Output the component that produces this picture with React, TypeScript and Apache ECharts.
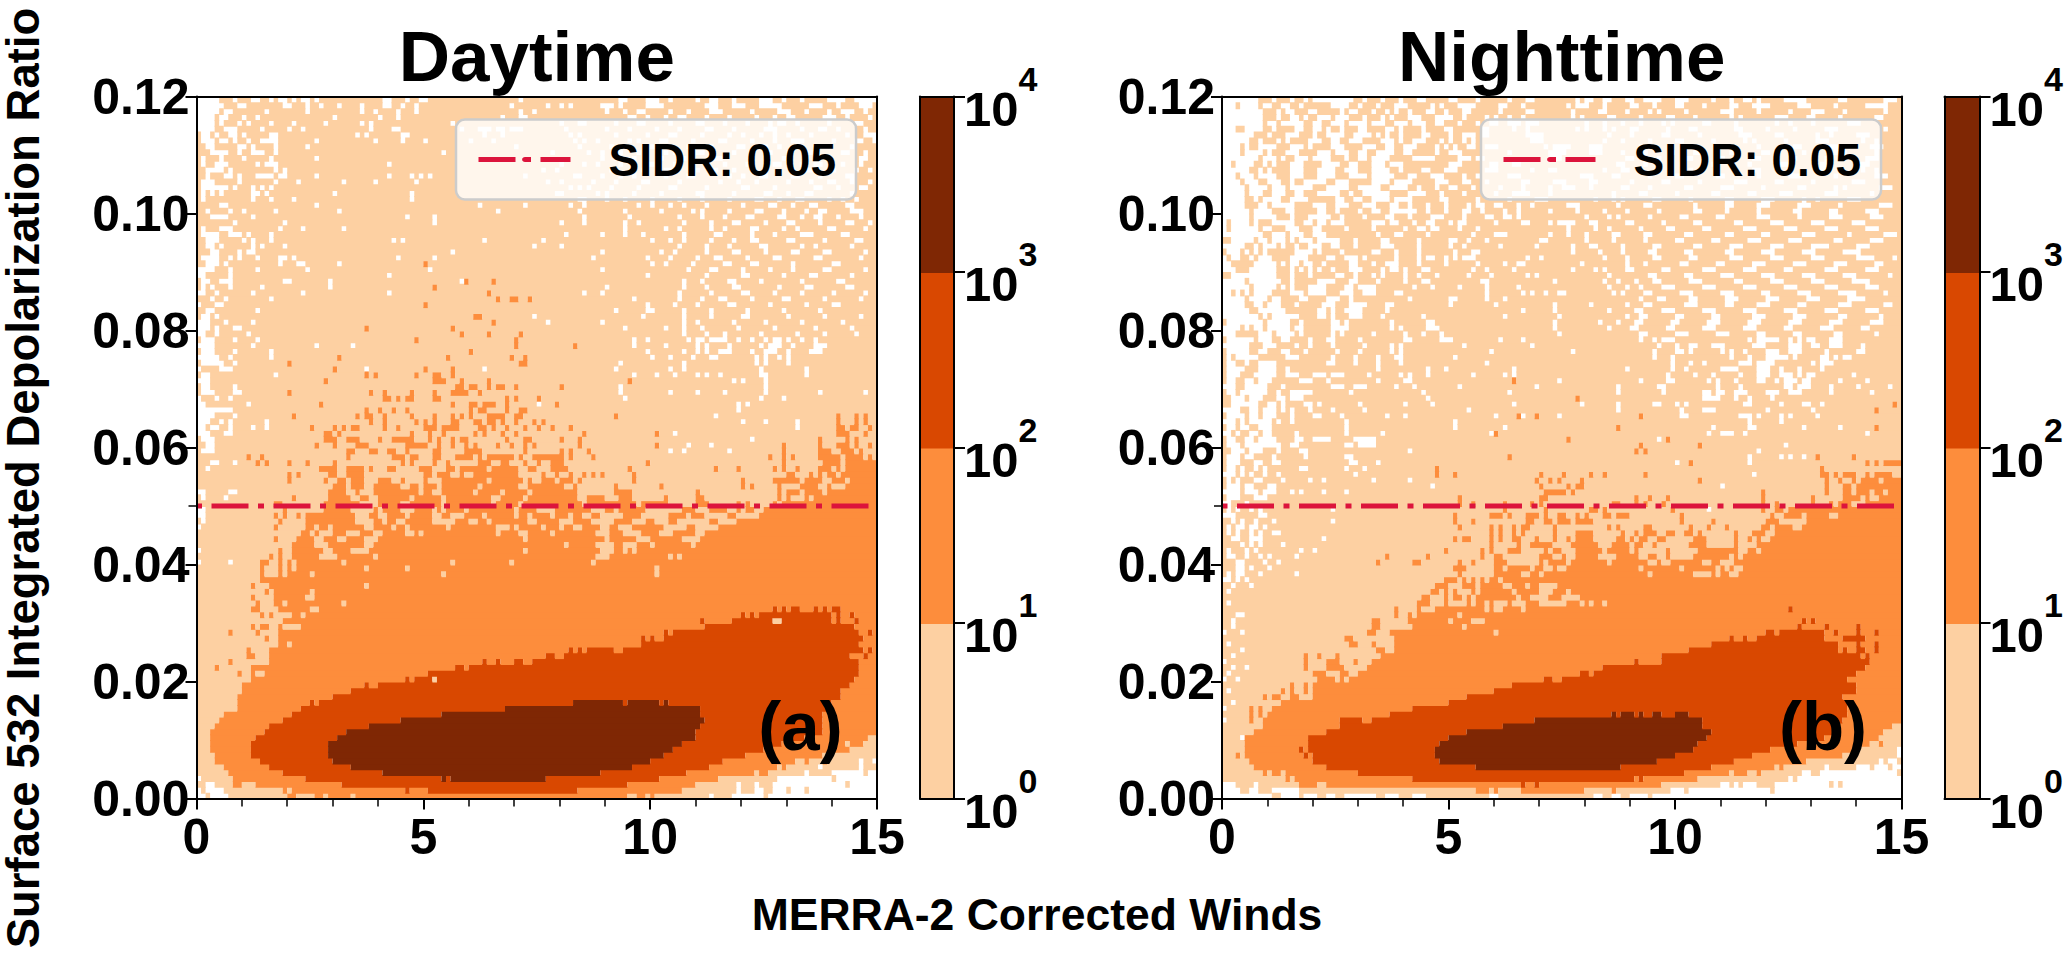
import React, { useEffect, useRef } from "react";
import * as echarts from "echarts";

const BOLD = "'Liberation Sans', Arial, sans-serif";
const LEGEND_NAME = "SIDR: 0.05";
const SIDR = 0.05;
const CRIMSON = "#DC143C";
const colorLevels = ["#FDD0A2", "#FD8D3C", "#D94801", "#7F2704"];
const colorBarEdges = [1, 10, 100, 1000, 10000];
const xTicks = { min: 0, max: 15, step: 5 };
const yTicks = { min: 0, max: 0.12, step: 0.02 };

// Class of each bin: 0 empty, 1 = 10^0-10^1, 2 = 10^1-10^2, 3 = 10^2-10^3, 4 = 10^3-10^4.
// Rows count up from the bottom (0.001 each); columns are 0.1 wide. "col:class" starts a run.
const dayBase: Record<number, string> = {
  0: "0:0 2:1 3:0 7:1 20:2 22:1 26:2 28:1 29:2 34:1 35:2 95:1 97:2 99:1 100:2 101:1 113:0 114:1 118:0 125:1 126:0",
  1: "0:0 1:1 2:0 6:1 19:2 20:1 21:2 46:3 47:2 51:3 84:2 107:1 119:0 120:1 123:0 125:1 127:0 130:1 131:0 134:1 135:0",
  2: "0:1 2:0 4:1 8:2 10:1 13:2 32:3 95:2 110:1 119:0 120:1 123:0 124:1 127:0 143:1 144:0",
  3: "0:0 1:1 8:2 24:3 54:4 55:3 56:4 77:3 102:2 115:1 128:0 140:1 141:0",
  4: "0:1 7:2 19:3 41:4 89:3 108:2 123:1 124:2 126:1 134:0 135:1 140:0 147:1 148:0",
  5: "0:1 6:2 16:3 34:4 96:3 113:2 128:1 129:2 130:1 137:0 138:1 146:0 147:1",
  6: "0:1 4:2 14:3 30:4 100:3 116:2 132:1 134:2 135:1 138:2 139:1 146:0 147:1 149:0",
  7: "0:1 4:2 12:3 29:4 103:3 121:2 138:1",
  8: "0:1 3:2 12:3 29:4 105:3 125:2 143:2 144:1",
  9: "0:1 3:2 12:3 29:4 107:3 129:2 143:1 144:2 147:1",
  10: "0:1 3:2 13:3 31:4 110:3 134:2 148:1",
  11: "0:1 3:2 15:3 33:4 110:3 138:2",
  12: "0:1 4:2 16:3 38:4 111:3 138:2",
  13: "0:1 5:2 19:3 45:4 112:3 138:2",
  14: "0:1 6:2 21:3 54:4 111:3 138:2",
  15: "0:1 9:2 23:3 68:4 111:3 140:2",
  16: "0:1 9:2 25:3 26:2 27:3 83:4 94:3 95:4 102:3 103:4 104:3 140:2",
  17: "0:1 9:2 30:3 142:2",
  18: "0:1 10:2 34:3 142:2",
  19: "0:1 10:2 37:3 38:2 40:3 144:2",
  20: "0:1 12:2 46:3 47:2 48:3 52:2 53:3 145:2",
  21: "0:1 12:2 13:1 15:2 51:3 146:2",
  22: "0:1 12:2 57:3 59:2 60:3 146:2",
  23: "0:1 16:2 63:3 64:2 66:3 67:2 70:3 72:2 74:3 146:2",
  24: "0:1 11:2 13:1 16:2 77:3 79:2 81:3 144:2 147:3 148:2",
  25: "0:1 11:2 12:1 16:2 82:3 83:2 84:3 85:2 86:3 92:2 94:3 147:2 148:3 149:2",
  26: "0:1 18:2 98:3 146:2",
  27: "0:1 18:2 98:3 99:2 100:3 101:2 103:3 147:2",
  28: "0:1 18:2 103:3 104:2 105:3 146:2 148:3 149:2",
  29: "0:1 18:2 112:3 145:2",
  30: "0:1 19:2 111:3 112:2 118:3 140:2 141:3 142:2 145:3 146:2",
  31: "0:1 19:2 120:3 121:2 122:3 123:2 124:3 140:2 141:3 142:2 144:3 145:2",
  32: "0:1 18:2 127:3 128:2 129:3 130:2 131:3 133:2 136:3 137:2 138:3 139:2 140:3 142:2",
  33: "0:1 17:2", 34: "0:1 17:2", 35: "0:1 17:2", 36: "0:1 16:2", 37: "0:1 15:2",
  38: "0:1 21:2", 39: "0:1 22:2", 40: "0:1 22:2", 41: "0:1 22:2", 42: "0:1 23:2", 43: "0:1 23:2",
  44: "0:1 24:2", 45: "0:1 30:2", 46: "0:1 30:2", 47: "0:1 30:2", 48: "0:1 30:2", 49: "0:1 30:2",
};
const dayLight: Record<number, string> = {
  49: "34-38 40 45-47 52 54 59 70 75-78 87-89 92 99-106 110-112 117-118 120 123-124",
  48: "35-37 40-41 46 52-53 56-58 63 70 73 78 82 85-86 89-93 98-103 108 112-116 119-123",
  47: "35-38 41 44-45 52-56 60-61 64 73-74 80-82 87-91 96-98 101-103 106-112 115-118",
  46: "37-38 43 46 55 66-68 70 76 80 83-84 89-90 93-95 103-107 110-114",
  45: "28 33-35 39-40 46-47 49 66 71-72 78 88-90 94-97 102-104 110-111",
  44: "26-27 31-32 37-39 72 90 97-99 107-110",
  43: "26-28 37-38 81 88-91 94-96 100 109",
  42: "28-29 34-37 72 89-91 94 96",
  41: "27-30 39 88-90 104 106",
  40: "32 56 69 87",
  39: "37 46 101",
  38: "25 54 101",
  36: "37",
  35: "25",
  34: "24-25",
  33: "19 32",
  32: "25-26",
  31: "18-20 23",
  29: "19-21 22",
  26: "17 20",
  30: "127-128",
  20: "52",
};
const dayOrange: Record<number, string> = {
  91: "50", 88: "59 65", 87: "52", 86: "64", 85: "66 69-70 73", 84: "50", 82: "61-62", 81: "65",
  80: "37 56", 79: "58 64 71",
  78: "48 70", 77: "70 83", 76: "60", 75: "31 55 69 72", 74: "20 71-72", 73: "30 50 56",
  72: "37 39 48 52-53 56", 71: "28 52-53 54 58 64 95", 70: "57-58 60-61 64 66-67 70 80",
  69: "20 38 41 47 52 56-59 62", 68: "41-42 44 46-47 52-53 68 70 75", 67: "27 56 60-61 63-65 68 79",
  66: "37 40 43 46 60 62-63 68 71-72", 65: "21 35 37-38 41 47 52 56 58 60 64-67 70-71 92 141 145 147",
  64: "38 41 48 50 52 56-57 61-62 64-65 67 70 74 76 141 145 147",
  63: "25 30 32 34-35 41 44 50-52 54-57 62-63 65 68 72 75 78 82 141-142 144-145 148",
  62: "28-29 31 47 51 54 61 63 67 70 85 101 141-143 147",
  61: "28-30 33-35 40 43-47 51 53 56 58-59 68 72-73 80 84 137 143 145",
  60: "26 30 35-37 46-48 49-50 53 56 59 61 66 69 72 74 84 101 129 137 141-143 145 148",
  59: "33-34 38-39 42-43 46 52-53 59-62 72 80 82 86 129 137-139 142-144 146",
  58: "11 14 33 43-45 47-48 52-53 57-60 62 64-69 71 74-80 82 87 126 129 131 137-141 143-146 148",
  57: "13 15 20 24 30 45 47 52 55 62-64 67-68 72 75 78-80 99 129 138-141 143-149",
  56: "27-30 33-36 38 42-43 49-51 55-56 58-63 65-70 73-74 78-81 95 114 119 127 129 132 137-139 141 143-149",
  55: "20 22 29-30 33-36 50-51 53-55 58 61-70 76 79 82 85 87 89 96 130-131 135 137 139-140 142-149",
  54: "20 28 31-32 34-36 40-42 45 50 54-63 65-71 73 76-78 80-82 84 96 120 127-132 134-137 140-142 144-149",
  53: "30-32 34-36 39-44 47-48 50-52 54-61 63-70 73-80 83 92 102 120 122 128 133-136 139 143-149",
  52: "29-32 35 39-48 50-51 54-60 62-66 68-72 74-83 92-95 110 128 130-132 134-137 139-149",
  51: "21 29-33 36-37 40-46 48-53 55-64 67-71 73-83 86-89 93-95 103 110-111 128 130 134 136-149",
  50: "17-18 28-35 40-44 47-53 55-64 66-70 72-84 86-96 98-103 110-112 119 121 127 129-149",
  43: "21-22", 42: "21-22 18", 41: "16 18 21", 40: "14-15 18 20", 39: "14 18 20", 38: "14 18 20",
  44: "22-23 17", 45: "23-24 26", 46: "17 24-25 27-28", 47: "18 24-29", 48: "19 17 22 24-29", 49: "19 28-29",
  37: "14", 36: "17 12", 35: "15", 34: "17 12", 33: "13", 32: "12-13", 31: "14 16", 29: "12 14-15", 28: "7 13",
  27: "15", 23: "7", 22: "4", 21: "9",
};
const dayWhite: Record<number, string> = {
  119: "0-4 8 12-13 16 18-19 21 23-24 26 41-42 46 49-50 71 93-94 99-101 104 110 113-114 118 124-126 129 133 139-142 145-149",
  118: "0-5 9-10 19-20 24 27 31 36 41-42 45 48 69 77 80 82 89-91 93 99-102 112-114 118-120 124-128 135-137 141 146-148",
  117: "0-4 6-7 15 24 36 39 44 48 71 74 90 94 97-98 104 108 113-115 122 128-130 134 139 142-144 147",
  116: "0-3 5-6 10 13 30 40 44 67 71-72 95-96 99 103 106-107 112 117 123 127 130-131 138-140 143 148",
  115: "0-3 5 9 11 16 21 28 36 38 56 80 84-85 92 97-98 104 110-111 116 121 126 128-129 132 139 145-146",
  114: "0-3 6-8 14 20 23 38 43-44 58 62-64 66-67 69-71 81 90 95 101 106 112-113 118 125-127 133 137-138 141 147",
  113: "1-2 4 7-8 10 16-17 35 37 45-46 63 67 82 84 92 99 104-105 111 117 120 124 127 130 135 143 147-149",
  112: "1-3 5-6 8 11 14-17 26 39 45 50 60 65 83 85 88 95 97 102-103 109 115-116 122 127 131-133 140 145-146 149",
  111: "2-3 9-10 12 17 24 70 84 91 94 100-101 108 113 119-120 125 128 132 137-139 144",
  110: "3-6 9 12-14 17 54 78 86 89 93 97 103 105 110-111 118 125-126 130 134-135 142-143 147",
  109: "1 5 10 16 26 89 92 96 102 107 114-115 122 129-130 134 139 146-147",
  108: "1 4-6 13 15-17 42 80 85 88 93 99-100 105 112 116 121 127-128 133 136-137 142 146",
  107: "2-3 4-5 7 17 19 76 79 91 98 103-104 110 114 118 125 131 134-136 140 145 148",
  106: "2 6-7 9 13-16 18-19 26 42 47 49 51 72 83-84 89 93 96 103 108-109 117 120 124-125 131-132 137 143-144",
  105: "1-3 9 17 22 32 39 48 77 80 87 92 98-99 106 115 119 123 130 135 139-140 144 148",
  104: "1-6 8 12 14 16 82 84 86 91 97 104-105 112 120-121 127 136-137 141 146-147",
  103: "1 3 5 12-13 15 30 47 79-80 88 90 96 102 110-111 118 125-126 130 134-135 144",
  102: "1 12 16 21 47 84 85 90 94 100 106 111 117 123-124 128 132-133 139 142 145",
  101: "5-6 26 62 72 82 85 97 100 104 107 112 120 126-127 131 135-136 143-144",
  100: "2 7 10 17 31 66 84 94 102 109 111 117 123-124 129 134 137-138 144-146",
  99: "3-6 12 46 52 85 95 106 111 116 121-122 128-129 133 136-137 141 146",
  98: "8 19 52 80 85 94 97 107 113 118-119 125 130-131 137 143-144 148",
  97: "1 5-7 18 23 32 94 103 106 113 116 122-123 129 132 139-140 147",
  96: "1-4 7-9 11 16 81 89 94 98 107 114-115 122 127 133-135 142-143",
  95: "2-4 10 12 16 43 45 63 76 100 104 107 113 118 122-123 130-131 138 145-146",
  94: "2-3 5 12 14 19 74 80 106 112 117 124-125 133 136 144",
  93: "3-4 9 11-12 56 89 102 105 112 118-119 125 131-132 138-139 147",
  92: "1-4 7 9 13 18-19 21 44 52 87 99 104 110 114-115 121 127-128 136-137 146",
  91: "2-4 6 18 22-23 31 100 103 109 116-117 122-123 131 140-141",
  90: "0-3 7 13 24 51 89 108 113-114 120 126 131 138-139 147",
  89: "0-1 7 42 99 112 120-121 129 135-136 144",
  88: "1-2 5-7 19-20 29 58 107 111 117-118 124 133 141-142",
  87: "1 3 7 14 29 90 107 112 118-119 128 134-135 143-144",
  86: "0-1 4 12 23 42 85 89 106 113 120-121 127 133 140 147",
  85: "3 6 16 96 106 111 115-116 122 129-130 138 146",
  84: "0 4-5 99 105 110 117-118 126 134 140-141",
  83: "2-3 13 92 99-100 107 113 121 129 137",
  82: "1-2 4 74 98 107 113 120-121 130 138 146",
  81: "0-2 6 12 77 89 107 110 118 125 133 142",
  80: "0-2 4 8-9 94 103 107 111 119 127 136 144",
  79: "0-1 4 11 107 112 116 124 132 138 145",
  78: "1-3 8 13 96 99 108 110 111 113-116 119 122 125 127-128 130 133 136",
  77: "0-3 12 26 34 96 103 110 112 117 124 126-128 131 136-138",
  76: "1-3 8 16 99 107 110 112 115-117 122 125-127 130 135-137",
  75: "0-4 7 16 100 104 109 113-114 123 125 128 130",
  74: "1-5 8 93 107 123 125 130",
  73: "0 5-7 37 63 92 104 107 124 134",
  72: "1-2 17 96 101 105 110 112 115 124-125 134",
  71: "0-2 118 120 125",
  70: "1-2 8 93 125",
  69: "1-3 8-9 20 93 104 110 116 125 137 147",
  68: "0 4 7 94 124 129",
  67: "0-1 11 75 119 121",
  66: "0-7 119",
  65: "0-3 8 114",
  64: "0-2 5 7 15 120 125 132",
  63: "0-1 3-4 7 12 15 132",
  62: "0-2 6-7 105",
  61: "1-3 122",
  60: "2-3 113 108",
  59: "1-3 104 107 117",
  57: "3-4 8",
  56: "2",
  52: "0-1 7-8",
  51: "1 6",
  49: "0-1", 48: "0-1", 47: "1", 46: "0", 42: "0", 40: "0 7",
};

const nightBase: Record<number, string> = {
  0: "0:0 11:1 13:0 17:1 18:0 21:1 23:0 25:1 27:0 34:1 36:0 39:1 42:0 45:1 59:0 61:1 82:0 84:1 86:0 88:1 90:0 94:1 95:0",
  1: "0:0 4:1 6:0 8:1 11:0 17:1 56:2 59:1 60:2 61:1 66:2 80:1 86:2 87:1 99:0 102:1 103:0 121:1 122:0",
  2: "0:0 3:1 7:0 8:1 17:2 21:1 23:2 66:3 67:2 69:3 70:2 97:1 110:0 112:1 113:0 114:1 115:0 118:1 122:0 134:1 135:0 136:1 137:0",
  3: "0:1 14:2 15:1 16:2 42:3 91:2 92:3 93:2 105:1 125:0 126:1 127:0",
  4: "0:1 9:2 10:1 11:2 13:1 14:2 30:3 102:2 112:1 113:2 116:1 118:2 119:1 128:0 130:1 132:0 149:1",
  5: "0:1 7:2 23:3 56:4 88:3 108:2 122:1 123:2 124:1 133:0 134:1 140:0 143:1 144:0 147:1 148:0",
  6: "0:1 6:2 20:3 48:4 96:3 113:2 129:1 145:0 146:1 147:0 149:1",
  7: "0:1 3:2 4:1 5:2 18:3 19:2 20:3 47:4 100:3 117:2 137:1 149:0",
  8: "0:1 5:2 17:3 18:2 19:3 47:4 104:3 121:2 140:1 149:0",
  9: "0:1 5:2 19:3 48:4 105:3 127:2 143:1 145:2 146:1",
  10: "0:1 5:2 19:3 50:4 107:3 133:2 145:1",
  11: "0:1 7:2 23:3 54:4 108:3 135:2 146:1",
  12: "0:1 9:2 26:3 62:4 106:3 136:2 148:1",
  13: "0:1 6:2 7:1 9:2 26:3 31:2 33:3 69:4 106:3 137:2",
  14: "0:1 6:2 7:1 8:2 9:1 10:2 37:3 86:4 87:3 88:4 91:3 92:4 93:3 95:4 97:3 100:4 103:3 138:2",
  15: "0:1 6:2 7:1 8:2 9:1 11:2 42:3 138:2",
  16: "0:1 13:2 50:3 138:2",
  17: "0:1 9:2 10:1 11:2 13:1 15:2 17:1 20:2 54:3 137:2",
  18: "0:1 13:2 14:1 15:2 16:1 18:2 19:1 20:2 60:3 140:2",
  19: "0:1 15:2 16:1 18:2 19:1 20:2 64:3 140:2",
  20: "0:1 21:2 25:1 26:2 27:1 28:2 71:3 73:2 75:3 138:2",
  21: "0:1 20:2 23:1 26:2 28:1 30:2 79:3 81:2 82:3 140:2",
  22: "0:1 18:2 19:1 23:2 27:1 32:2 84:3 142:2",
  23: "0:1 18:2 19:1 23:2 26:1 29:2 30:1 33:2 91:3 92:2 97:3 143:2",
  24: "0:1 18:2 19:1 21:2 22:1 25:2 26:1 35:2 97:3 141:2 142:3 143:2",
  25: "0:1 34:2 36:1 38:2 103:3 136:2 137:3 138:2 140:3 142:2 144:3 145:2",
  26: "0:1 28:2 30:1 33:2 34:1 38:2 108:3 136:2 140:3 141:2 144:3 145:2",
  27: "0:1 27:2 29:1 38:2 112:3 113:2 115:3 116:2 118:3 133:2 137:3 142:2",
  28: "0:1 32:2 34:1 37:2 120:3 122:2 123:3 133:2 135:3 136:2 140:3 141:2 144:3 145:2",
  29: "0:1 33:2 35:1 42:2 127:3 128:2 133:3 134:2 140:3 141:2",
  30: "0:1 33:2 35:1 41:2 128:3 129:2 130:3 131:2",
  31: "0:1 38:2 39:1 41:2 42:1 43:2",
  32: "0:1 38:2 39:1 43:2 125:3 126:2",
  33: "0:1 43:2", 34: "0:1 44:2", 35: "0:1 46:2", 36: "0:1 47:2", 37: "0:1 49:2",
  38: "0:1 108:2", 39: "0:1 107:2", 40: "0:1 105:2", 41: "0:1 104:2", 42: "0:1 116:2",
  43: "0:1 118:2", 44: "0:1 124:2", 45: "0:1 124:2", 46: "0:1 128:2", 47: "0:1 129:2",
  48: "0:1 129:2", 49: "0:1 128:2",
};
const nightLight: Record<number, string> = {
  37: "52 54 56 58 61", 36: "50-52 56 62-63 67 70-73", 35: "48 50 52-54 56 64 70-72 76",
  34: "46-48 50 53 55 65 68-71 75-78", 33: "46-48 50-53 55 58 60-62 64-66 70-75 79 81 84",
  32: "40 42 44-46 58 60-61 66", 31: "52", 30: "50 55-57", 29: "53", 28: "60",
  39: "109 111 113-114", 38: "109 112-113", 40: "106-107 110-112", 41: "106-109 112 114",
  42: "118", 43: "120-121", 48: "134-135",
};
const nightOrange: Record<number, string> = {
  71: "64", 68: "78", 67: "148", 66: "144", 65: "65 69 92", 63: "87 144", 62: "60", 61: "76 98",
  60: "92 105", 59: "91 93", 58: "63 131 139", 57: "103 142 144 146-149", 56: "47 132",
  55: "47 51 70 75 81 84 93 132-133 135 137-139 142 144-147",
  54: "69 72 74 79 105 133 136 139 141-144 146-149",
  53: "70 76 78 79 133 137-138 140-149", 52: "71-73 74-75 77 119 133 137-138 140-142 144-145 147-149",
  51: "52 70-71 91 94 98 119 130 137-140 142 145-149",
  50: "52 55 62 68 70 86-87 91 93 97 119 122 130 134 136-138 142-149",
  49: "62 71 81-82 84 99 119 122-123 125-127",
  48: "51 59-61 63 67-69 71 74-75 78 80 84-85 87-89 101 121 124-127",
  47: "51 55 67-68 71-72 74-76 78-80 81 101 108 120-122",
  46: "52 59 61 64 66-67 73 85 87 93-94 103 107 111 119-120 122-125",
  45: "59 61 64 66 73 78-81 88 91 93-95 98-99 102-103 105 113 117-119 122-127",
  44: "51 53-54 59 61 64-65 69 73 76 78-81 87-88 90 92-93 96-97 104-106 113 116 118 121-127",
  43: "59 65 68-72 77-82 86-89 91-92 95 103-106 113 118-123",
  42: "49 57 59 63-65 71 73-74 78-83 85-89 91 98 105-113",
  41: "36 45 57 60-61 70-72 75 78-82 87-91 94-95 98 105-110 113",
  40: "34 42-43 52 55 60-62 70 72-75 77-84 86-93 96 99-104",
  39: "51-53 60-61 63-67 69-70 73 76-91 93-100 102-106",
  38: "52 60-65 68-69 71-93 95-103",
};
const nightWhite: Record<number, string> = {
  119: "0-7 11 15 18 20-28 31 35 39 43-44 50-51 56 63 67-68 78 80-81 84-85 89-90 93-96 100-102 108 112 115-116 118 124-128 136-137 146-148",
  118: "0-2 4-7 9-10 13-14 17 24-27 30 34 38-40 46 48 52-55 61-62 66 76 78-80 84 90-91 95 100-101 106 112-113 117-120 127-129 135 142-146",
  117: "0-8 12 14-15 19-20 26 28-29 33 36 38 41 45-46 49 53-54 61 67-68 77 83-84 89 94 96 102 110-112 118 125 130-132 137 146",
  116: "0-8 12 15-16 18 21-23 25-27 31 35 37 41-43 47-50 53 58 60 63 66 77 79 85-86 92 98-99 104 112 114 122-124 129-130 136 144-145",
  115: "0-8 10-11 13-17 20-21 24-26 28-31 33-35 38-40 42-44 47-48 52 56 59-60 63-65 67-69 80 84 88 92 97 99 106-107 113 122 125 130 138-140",
  114: "0-2 5-8 11 16-17 20-21 23 26 30-31 36-37 39 44 49-50 57-58 64 67 78 80 84 86 90-91 98 103-104 113-114 120 126 133-135 146",
  113: "0-6 10 14-16 20 23-26 29-32 34 36 39 44-45 50 53-55 57-58 67-70 85 90 97-98 105 114-116 122-123 131 134 140-142",
  112: "0-5 8 12 14 19-21 24-25 28-30 35-37 39 42-44 48 50 53 55 68-70 84 88 94 100-101 108 115 117 124 131-133 141 144",
  111: "0-3 5 8-11 15-17 19 24-26 31-33 36-37 40-42 47 49 51 54-55 58-60 71 73-76 81-83 92 102 109-110 118 126-127 134-135 143-145",
  110: "0-3 5-7 8 10 14-16 21-23 25-27 30-31 34-37 40-41 47 50-52 63 72-75 81-83 88 93 99 104-105 112 119-120 128 135-137 144",
  109: "0-7 9-11 13 16-18 20-23 27 30-31 33-36 42-46 52-54 56-57 72-74 89-90 96 102-103 110 117-118 125-126 133 136 142-144",
  108: "0-1 3-6 9 11 15-17 22-25 28-29 33-35 37-39 50-52 59-60 64-65 87-88 93 101 108-109 116 123-125 132-133 140-142",
  107: "0-5 8 10 15-17 21-24 27-29 33-36 39 44-45 49-51 58-60 68 72-73 84 88-89 96 103 109 117-118 125 131-133 141 144",
  106: "0-2 4-6 8-11 15-17 21-24 28-31 33-37 41-42 46-48 53 56 63-65 79-81 86-87 94 100-101 109-110 118 125-127 135 144-146",
  105: "0-3 5-7 10-12 15 18-22 25-27 33-36 38-41 47-49 53-54 58 66-67 73-75 81-82 90 97-98 105 113-115 122-123 130 139-141",
  104: "0-4 6-9 11-13 15-19 23-27 30-34 37-40 43 47 50-51 55 61 66 72 75-77 81 88-89 94 102-103 110-112 119 127-128 135 137 145-147",
  103: "0-4 6-8 11-13 16-17 21-25 28 31-36 41-44 48 53 60 64-67 72 86 92-93 100 108-109 116-117 123-125 133-135 143",
  102: "0-4 7 9-12 15-18 25-26 29-30 33-36 38-41 48-49 56 63 69-71 82 86 88 95-96 103 111-112 119-121 128 131 138-140",
  101: "0-4 8-9 11-15 20-22 25-27 31-33 37-38 41 45 49 54 56-57 60-61 65 68 76-78 87 93-94 104 111-112 118-120 127-129 136 145-147",
  100: "0-5 7-10 14-15 21-22 25 30 33-34 37-42 45 49 53-54 57 62 65 72 78 84 89 96 104-105 111 118 126-127 134-135 142-144",
  99: "0-5 7-11 15 19-23 26 31 36-37 41 46-48 53 58-59 62-63 65 80 85 87 94 101-102 109-110 118-120 127 134-136 143-145",
  98: "0 2-5 7 11-15 18-19 21-22 24-26 33-35 37-38 42 45-46 50 52-53 60 66-67 72 74-77 81-82 89-90 97 104-105 113-114 121-123 130-132 139-141",
  97: "0 2-7 9-10 14-16 20-21 27 33 40 43-44 46-47 52 56 76 82 85 92 98-99 106-107 115-117 124-126 133-135 142-144",
  96: "0-8 11 12-13 15-17 20-22 34 38-39 45 55 60-62 72 76 80 86-87 93-94 102-103 111-112 119-120 128-130 138 146-148",
  95: "2-6 8-9 11-13 15 17-19 21-25 29 35-36 43 50-51 54 58 70-71 80 86 93 100-101 108-109 116-118 125-127 135-136 143-145",
  94: "0-4 7 9-11 13 16 19-21 24-25 29 35-37 43 50 53 61 69 77 81-82 88 95-96 104-105 112-114 121-123 130-133 140-142",
  93: "1-3 5 7 9 16-19 21 26 33-34 38 43 51 55-56 77 83 88 94-95 102-103 111-112 119-121 128-130 137-140",
  92: "0 2-3 6 8-10 15-18 23-24 27-29 31 38 43 45-46 49 51 53-55 67 70 84 89 95-96 103-104 112-114 121-123 130-132 140-143 148",
  91: "0-1 7-11 13 15-16 18-19 22 28-29 33 36-38 43 49 56 62 65-66 79 89 93 101-102 109-110 117-119 126-128 135-137 144-145",
  90: "0-2 6-11 15 17 19 21 24 28-30 35 37-38 40 44-45 55 58 64 77 82 84 89-90 97-98 106-108 115-117 124-125 133-135 142-144",
  89: "2-11 15 19 25-26 29 33 35 40 43 47 54 59 67 69 85 94-95 102-103 110-112 119-121 128-130 137-139 147",
  88: "0-4 6-12 15 21-24 28-29 34 40 44-45 57 58 73 84 87 91 95-96 103-105 113-114 121-123 130-132 139-142",
  87: "0-5 7-11 13 15 19-22 27-28 30-33 42 46 52 58 65 85 89 92 97-99 106-108 115-117 124-126 133-135 142-144",
  86: "0-1 3 5 7-10 15-17 19-22 26-28 31-33 38-39 58 66 68 71 74-75 86 88 93-94 101-103 110-112 119-120 127-129 136-139 146",
  85: "0-4 6-9 11-12 17-18 23-25 28 41 50-51 58 62 92 96-97 103-104 111-113 120-122 129-131 138-141",
  84: "0-4 7-8 10-12 16 22-24 28-31 36-37 50 60 73 81 89 93-94 102-104 111-112 118-120 127-128 136-138 146-147",
  83: "0-5 8-13 21-22 24 27-30 36 66 73 85 91-92 97-99 106-108 115-117 124-126 133-135 142-144",
  82: "0-7 9 11-16 21-22 24 28-30 35 44 62 74 89 92-93 100-101 108-109 117-119 126-128 136-137 145",
  81: "1-8 10-14 17 24-25 27 37 45-46 73 83 87 91-92 99-100 107-109 116-118 125-127 134-136 143-145",
  80: "0-3 5 7-8 10-14 16-17 24-27 37 39 45-47 73 85 90-91 98-99 106-108 115-117 124-125 132-134 141-142",
  79: "0-2 8-10 12-15 17 24 26 33 40 44 48 74 92-93 100-102 109-111 118-119 126-127 135-136 144",
  78: "1-6 8-10 13 14 19 23-24 30 40-41 48-50 61 66 92 95 97-99 116 118-122 125 127 129-130 134-136",
  77: "0-5 9-11 16 19 24 31 37 39 53 68 96 100 103-104 108-110 117-119 125-127 130-131 134-136 141",
  76: "1-5 8-9 13-14 18 25 30 37 39 59 77 95 100-101 103 110 112 115 120-122 125-127 133 140-141",
  75: "1 3-7 14-16 24 29 34 38-39 51 95 99 112 116 120-124 126 132-133 135 137-138",
  74: "1-2 5 8-11 23-24 29 34 39 58 99 103 106 114-116 118-121 130 132-134",
  73: "1-4 8-11 14 34 45 49 64 89 99 102 110-113 118-120 123 127 132",
  72: "1-3 7-11 14-16 20-22 24-26 32 39 41 45 55 62 64 98 104 108 114 118-120 123-125 127 129-130 139",
  71: "1-2 5-6 8-10 17-19 23 34 40-41 74 92 98-99 107 109 113 118-119 122 124-126 128-129 136 142",
  70: "0-2 5-9 13 24-26 29-31 38 42 52 69 87 96-97 109 114 124-125 127-129 134 140 147",
  69: "1-2 4-9 12 15-19 28 44 63 87 97 106-107 109-110 113-115 120-122 125-127 134 143",
  68: "2-4 6-8 12-13 15-17 45 106-109 113 116 121",
  67: "2-7 10-11 13 18-19 21 30 40 46 64 79 87 95-96 100 102 115-116 123 128-129 132",
  66: "0-3 6-7 9-11 13 15 19 24 31 54 87 101 106-108 120 130",
  65: "1-4 6-7 9-11 15 20-21 26 36 40 60 66 74 101-102 114-116 118 123 125 131",
  64: "0-2 4 6-10 12 15 27 51 116 123",
  63: "1-2 4-5 8-10 27 51 62 108 116-117 128 136",
  62: "0-1 3 6-7 9-10 16 27 35 59 107 110-112 115 142",
  61: "1-2 5-6 8-11 16-17 20-23 29-33 96",
  60: "1-3 5-12 15-16 27-28 30-33 124",
  59: "2-4 6-8 12 17 18 41 118",
  58: "1-3 5-6 11 18 27-28 116 123 125 128 131",
  57: "1-3 7-8 11-12 28-29 34 100 116",
  56: "1-2 4 7 9 17-18 31 27",
  55: "0-2 4 6 9 12 29 117",
  54: "1 3 7-8 13 19 22 33 41",
  53: "1-3 5-6 10-11 46 110",
  52: "0-3 5-7 9-11 15 17 22 27",
  51: "1-3 7-9",
  50: "0-1 5",
  49: "1 3 6 8 24 107",
  48: "0-2 8-9",
  47: "2 4 7 11 24",
  46: "1 3-4 6-7 9",
  45: "1 3 6 8 11-12",
  44: "2-3 6-8 22",
  43: "4 6 8 13",
  42: "1 5 7 17 20",
  41: "1-2 5 8 10 16",
  40: "3-4 9 12",
  39: "3-4 6 10",
  38: "1 3-4 8 16",
  37: "0-1 3 5", 36: "2 6", 35: "1", 33: "1", 31: "3-4", 30: "2", 29: "2", 28: "0 4", 26: "1", 25: "4", 24: "2",
  23: "0", 22: "2 5", 21: "1", 20: "0 3", 18: "1", 16: "2", 15: "0", 13: "0", 10: "4",
};

const parseCols = (s?: string): number[] => {
  if (!s) return [];
  const out: number[] = [];
  s.trim().split(/\s+/).forEach((t) => {
    if (!t) return;
    const [a, b] = t.split("-").map(Number);
    for (let c = a; c <= (b === undefined ? a : b); c++) out.push(c);
  });
  return out;
};

// class grid -> horizontal runs [x0, x1, y0, y1, count]
function buildCells(
  base: Record<number, string>,
  light: Record<number, string>,
  orange: Record<number, string>,
  white: Record<number, string>,
): number[][] {
  const cells: number[][] = [];
  for (let r = 0; r < 120; r++) {
    const row = new Array(150).fill(1);
    if (base[r]) {
      const runs = base[r].split(" ").map((p) => p.split(":").map(Number));
      runs.forEach(([c, k], i) => {
        const end = i + 1 < runs.length ? runs[i + 1][0] : 150;
        for (let q = c; q < end; q++) row[q] = k;
      });
    }
    parseCols(light[r]).forEach((c) => { row[c] = 1; });
    parseCols(orange[r]).forEach((c) => { if (row[c] < 2) row[c] = 2; });
    parseCols(white[r]).forEach((c) => { if (row[c] <= 1) row[c] = 0; });
    let start = 0;
    for (let c = 1; c <= 150; c++) {
      if (c === 150 || row[c] !== row[start]) {
        if (row[start] > 0) {
          cells.push([start / 10, c / 10, r / 1000, (r + 1) / 1000, Math.pow(10, row[start] - 0.5)]);
        }
        start = c;
      }
    }
  }
  return cells;
}

const levelColor = (count: number) =>
  colorLevels[Math.min(colorLevels.length - 1, Math.max(0, Math.floor(Math.log10(count))))];

const renderCell = (_: unknown, api: any) => {
  const a = api.coord([api.value(0), api.value(3)]);
  const b = api.coord([api.value(1), api.value(2)]);
  return {
    type: "rect",
    shape: { x: a[0], y: a[1], width: b[0] - a[0], height: b[1] - a[1] + 1 },
    style: { fill: levelColor(api.value(4)) },
  };
};

const LINE = 2;
const blackLine = { show: true, onZero: false, lineStyle: { color: "#000", width: LINE } };
const TICK_FONT = 50;

function panelAxes(gridIndex: number) {
  const x = {
    type: "value", gridIndex, min: xTicks.min, max: xTicks.max, interval: xTicks.step, z: 10,
    position: "bottom", axisLine: blackLine,
    axisTick: { show: true, length: 11, lineStyle: { color: "#000", width: LINE } },
    minorTick: { show: true, splitNumber: 5, length: 8, lineStyle: { color: "#000", width: 1.5 } },
    axisLabel: { color: "#000", fontSize: TICK_FONT, fontWeight: "bold", fontFamily: BOLD, margin: 13 },
    splitLine: { show: false },
  };
  const xTop = {
    type: "value", gridIndex, min: xTicks.min, max: xTicks.max, z: 10, position: "top",
    axisLine: blackLine, axisTick: { show: false }, axisLabel: { show: false }, splitLine: { show: false },
  };
  const y = {
    type: "value", gridIndex, min: yTicks.min, max: yTicks.max, interval: yTicks.step, z: 10,
    position: "left", axisLine: blackLine,
    axisTick: { show: true, length: 11, lineStyle: { color: "#000", width: LINE } },
    axisLabel: {
      color: "#000", fontSize: TICK_FONT, fontWeight: "bold", fontFamily: BOLD, margin: 7,
      formatter: (v: number) => v.toFixed(2),
    },
    splitLine: { show: false },
  };
  const yRight = {
    type: "value", gridIndex, min: yTicks.min, max: yTicks.max, z: 10, position: "right",
    axisLine: blackLine, axisTick: { show: false }, axisLabel: { show: false }, splitLine: { show: false },
  };
  const ySidrTick = {
    type: "value", gridIndex, min: yTicks.min, max: yTicks.max, z: 10, position: "left",
    axisLine: { show: false }, axisLabel: { show: false }, splitLine: { show: false },
    axisTick: { show: true, length: 8, customValues: [SIDR], lineStyle: { color: "#000", width: 1.5 } },
  };
  return { xs: [x, xTop], ys: [y, yRight, ySidrTick] };
}

function barAxes(gridIndex: number) {
  const base = { gridIndex, min: 0, max: 1, z: 10, axisLine: blackLine, axisTick: { show: false }, axisLabel: { show: false }, splitLine: { show: false } };
  const xs = [
    { ...base, type: "value", position: "bottom" },
    { ...base, type: "value", position: "top" },
  ];
  const logCommon = { type: "log", logBase: 10, gridIndex, min: colorBarEdges[0], max: colorBarEdges[colorBarEdges.length - 1], z: 10, splitLine: { show: false }, minorTick: { show: false }, axisLine: blackLine };
  const ys = [
    {
      ...logCommon, position: "right",
      axisTick: { show: true, length: 11, lineStyle: { color: "#000", width: LINE } },
      axisLabel: {
        margin: 10,
        formatter: (v: number) => `{b|10}{s|${Math.round(Math.log10(v))}}`,
        rich: {
          b: { color: "#000", fontSize: 49, fontWeight: "bold", fontFamily: BOLD, padding: [24, 0, 0, 0], lineHeight: 52 },
          s: { color: "#000", fontSize: 34, fontWeight: "bold", fontFamily: BOLD, padding: [0, 0, 36, 0], lineHeight: 38 },
        },
      },
    },
    { ...logCommon, position: "left", axisTick: { show: false }, axisLabel: { show: false } },
  ];
  return { xs, ys };
}

const panels = [
  { title: "Daytime", tag: "(a)", left: 196.5, width: 680.5, barLeft: 920, barWidth: 34, tagX: 800.5, legendLeft: 456, cells: buildCells(dayBase, dayLight, dayOrange, dayWhite) },
  { title: "Nighttime", tag: "(b)", left: 1222, width: 679.5, barLeft: 1944.5, barWidth: 35, tagX: 1823, legendLeft: 1481, cells: buildCells(nightBase, nightLight, nightOrange, nightWhite) },
];
const TOP = 96.5;
const HEIGHT = 702;

export default function App() {
  const ref = useRef<HTMLDivElement>(null);
  useEffect(() => {
    if (!ref.current) return;
    const chart = echarts.init(ref.current, undefined, { renderer: "svg" });
    const grids: any[] = [];
    const xAxis: any[] = [];
    const yAxis: any[] = [];
    const series: any[] = [];
    const legend: any[] = [];
    const title: any[] = [];
    const graphic: any[] = [];
    panels.forEach((p) => {
      const plotGrid = grids.length;
      grids.push({ left: p.left, top: TOP, width: p.width, height: HEIGHT });
      const xi = xAxis.length;
      const yi = yAxis.length;
      const a = panelAxes(plotGrid);
      xAxis.push(...a.xs);
      yAxis.push(...a.ys);
      series.push({
        type: "custom", name: p.title + " counts", xAxisIndex: xi, yAxisIndex: yi, data: p.cells,
        renderItem: renderCell, silent: true, clip: true, progressive: 0, z: 2,
        encode: { x: [0, 1], y: [2, 3] },
      });
      series.push({
        type: "line", name: LEGEND_NAME, xAxisIndex: xi, yAxisIndex: yi,
        data: [[xTicks.min, SIDR], [xTicks.max, SIDR]], symbol: "none", silent: true, z: 3,
        itemStyle: { color: CRIMSON },
        lineStyle: { color: CRIMSON, width: 5, type: [37, 9.5, 6, 9.5], dashOffset: 46.5, cap: "butt" },
      });
      legend.push({
        data: [LEGEND_NAME], left: p.legendLeft, top: 119.5, orient: "horizontal", selectedMode: false,
        itemWidth: 92, itemHeight: 6, padding: [14, 20, 14, 20],
        backgroundColor: "rgba(255,255,255,0.8)", borderColor: "#cccccc", borderWidth: 2.5, borderRadius: 9,
        lineStyle: { color: CRIMSON, width: 5, type: [37, 9.5, 6, 9.5], dashOffset: 0, cap: "butt" },
        itemStyle: { color: CRIMSON },
        textStyle: { color: "#000", fontSize: 46, fontWeight: "bold", fontFamily: BOLD, padding: [0, 0, 0, 33], lineHeight: 52 },
        z: 6,
      });
      title.push({
        text: p.title, left: p.left + p.width / 2 - 5, top: 16, textAlign: "center",
        textStyle: { color: "#000", fontSize: 71, fontWeight: "bold", fontFamily: BOLD },
      });
      graphic.push({
        type: "text", x: p.tagX, y: 726, z: 8,
        style: { text: p.tag, fill: "#000", fontSize: 69, fontWeight: "bold", fontFamily: BOLD, align: "center", verticalAlign: "middle" },
      });
      const barGrid = grids.length;
      grids.push({ left: p.barLeft, top: TOP, width: p.barWidth, height: HEIGHT });
      const bxi = xAxis.length;
      const byi = yAxis.length;
      const b = barAxes(barGrid);
      xAxis.push(...b.xs);
      yAxis.push(...b.ys);
      series.push({
        type: "custom", name: p.title + " colorbar", xAxisIndex: bxi, yAxisIndex: byi,
        data: colorBarEdges.slice(0, -1).map((lo, i) => [0, 1, lo, colorBarEdges[i + 1], lo * 3]),
        renderItem: renderCell, silent: true, z: 2, encode: { x: [0, 1], y: [2, 3] },
      });
    });
    graphic.push({
      type: "text", x: 23.5, y: 478, rotation: Math.PI / 2,
      style: { text: "Surface 532 Integrated Depolarization Ratio", fill: "#000", fontSize: 45.5, fontWeight: "bold", fontFamily: BOLD, align: "center", verticalAlign: "middle" },
    });
    graphic.push({
      type: "text", x: 1037, y: 914,
      style: { text: "MERRA-2 Corrected Winds", fill: "#000", fontSize: 44.5, fontWeight: "bold", fontFamily: BOLD, align: "center", verticalAlign: "middle" },
    });
    chart.setOption({ animation: false, backgroundColor: "#fff", grid: grids, xAxis, yAxis, series, legend, title, graphic });
    return () => chart.dispose();
  }, []);
  return <div ref={ref} style={{ position: "absolute", left: 0, top: 0, width: 2067, height: 957 }} />;
}
